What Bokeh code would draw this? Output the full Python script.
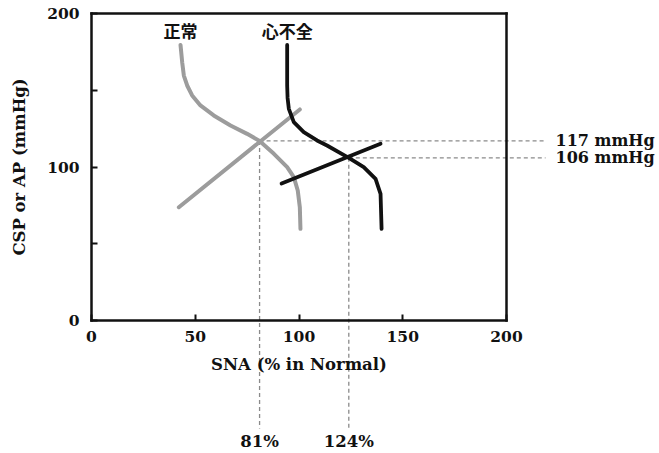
from bokeh.plotting import figure
from bokeh.models import Range1d, FixedTicker, LinearAxis
from bokeh.core.properties import value
from bokeh.embed import file_html
from bokeh.resources import INLINE

# ---- data ----
x_ticks = [0, 50, 100, 150, 200]
y_ticks = [0, 50, 100, 150, 200]
y_tick_labels = {0: "0", 50: "", 100: "100", 150: "", 200: "200"}

# Normal: baroreflex (CSP -> SNA) curve, gray
normal_curve_sna = [42.9, 43.7, 44.5, 46.1, 48.5, 52.5, 58.9, 67.0, 75.0, 81.0, 87.9, 94.3, 97.5, 99.4, 100.4, 100.7]
normal_curve_csp = [179.5, 168.3, 159.6, 153.1, 146.6, 140.1, 133.6, 127.0, 121.6, 117.0, 108.6, 99.9, 93.4, 84.7, 73.8, 59.7]
# Normal: SNA -> AP line, gray
normal_line_sna = [42.1, 100.4]
normal_line_ap = [73.8, 137.5]

# Heart failure: baroreflex curve, black
hf_curve_sna = [94.3, 94.3, 94.5, 95.1, 97.5, 102.3, 108.7, 113.5, 124.0, 131.2, 136.9, 139.3, 139.8]
hf_curve_csp = [179.5, 153.0, 145.0, 137.9, 129.2, 122.7, 117.3, 114.0, 106.0, 99.9, 92.3, 82.5, 59.7]
# Heart failure: SNA -> AP line, black
hf_line_sna = [91.6, 139.3]
hf_line_ap = [89.3, 115.1]

# operating points
op_sna = [81, 124]
op_ap = [117, 106]
op_sna_labels = ["81%", "124%"]
op_ap_labels = ["117 mmHg", "106 mmHg"]

group_labels = ["正常", "心不全"]

# ---- layout: frame fills the canvas, axes pinned at the data box ----
W, H = 659, 453
BOX_L, BOX_R, BOX_T, BOX_B = 91, 506, 13, 320   # px positions of data 0..200 box
sx = 200 / (BOX_R - BOX_L)   # data per px (x)
sy = 200 / (BOX_B - BOX_T)   # data per px (y)
x0 = -BOX_L * sx
x1 = (W - BOX_L) * sx
y0 = -(H - BOX_B) * sy
y1 = BOX_B * sy

def px_x(px):
    return (px - BOX_L) * sx

def px_y(py):
    return (BOX_B - py) * sy

p = figure(width=W, height=H, x_range=Range1d(x0, x1), y_range=Range1d(y0, y1),
           output_backend="svg", toolbar_location=None,
           min_border_left=0, min_border_right=0, min_border_top=0, min_border_bottom=0)
p.xgrid.visible = False
p.ygrid.visible = False
p.background_fill_color = "white"
p.border_fill_color = "white"
p.outline_line_color = None

ink = "#111111"
serif = "DejaVu Serif"

bottom_ax = p.below[0]
left_ax = p.left[0]
top_ax = LinearAxis(ticker=FixedTicker(ticks=[]), major_label_text_font_size="0px")
right_ax = LinearAxis(ticker=FixedTicker(ticks=[]), major_label_text_font_size="0px")
p.add_layout(top_ax, "above")
p.add_layout(right_ax, "right")

bottom_ax.fixed_location = 0
left_ax.fixed_location = 0
top_ax.fixed_location = 200
right_ax.fixed_location = 200

for ax in (bottom_ax, left_ax, top_ax, right_ax):
    ax.bounds = (0, 200)
    ax.axis_line_width = 2.5
    ax.axis_line_color = ink
    ax.axis_line_cap = "square"
    ax.major_tick_in = 6
    ax.major_tick_out = 0
    ax.major_tick_line_width = 2
    ax.major_tick_line_color = ink
    ax.minor_tick_line_color = None
    ax.major_label_text_font = serif
    ax.major_label_text_font_style = "bold"
    ax.axis_label_text_font = serif
    ax.axis_label_text_font_style = "bold"
    ax.axis_label_text_font_size = "16.5px"
    ax.axis_label_text_color = ink
    ax.major_label_text_color = ink

for ax in (bottom_ax, left_ax):
    ax.major_label_text_font_size = "15.5px"

bottom_ax.ticker = FixedTicker(ticks=x_ticks)
left_ax.ticker = FixedTicker(ticks=y_ticks)
left_ax.major_label_overrides = y_tick_labels
bottom_ax.axis_label = "SNA (% in Normal)"
left_ax.axis_label = "CSP or AP (mmHg)"
bottom_ax.major_label_standoff = 10
left_ax.major_label_standoff = 12
bottom_ax.axis_label_standoff = 10
left_ax.axis_label_standoff = 15

# dashed guides from the operating points
dash_color = "#8a8a8a"
x_ext = px_x(545)
y_ext = px_y(428)
p.segment(x0=op_sna, y0=op_ap, x1=op_sna, y1=[y_ext] * len(op_sna),
          line_color=dash_color, line_width=1.3, line_dash="4 3")
p.segment(x0=op_sna, y0=op_ap, x1=[x_ext] * len(op_sna), y1=op_ap,
          line_color=dash_color, line_width=1.3, line_dash="4 3")

gray = "#9c9c9c"
p.line(normal_curve_sna, normal_curve_csp, line_color=gray, line_width=4, line_join="round", line_cap="round")
p.line(normal_line_sna, normal_line_ap, line_color=gray, line_width=4, line_cap="round")
p.line(hf_curve_sna, hf_curve_csp, line_color=ink, line_width=3.8, line_join="round", line_cap="round")
p.line(hf_line_sna, hf_line_ap, line_color=ink, line_width=3.8, line_cap="round")

# group labels above curve tops
p.text(x=[normal_curve_sna[0], hf_curve_sna[0]], y=[px_y(30)] * 2, text=group_labels,
       text_font=value("Noto Sans CJK JP"), text_font_style="bold", text_font_size="17px",
       text_align="center", text_baseline="middle", text_color=ink)

# operating point labels
p.text(x=op_sna, y=[px_y(441)] * len(op_sna), text=op_sna_labels,
       text_font=value(serif), text_font_style="bold", text_font_size="16.5px",
       text_align="center", text_baseline="middle", text_color=ink)
p.text(x=[px_x(555)] * len(op_ap), y=op_ap, text=op_ap_labels,
       text_font=value(serif), text_font_style="bold", text_font_size="16px",
       text_align="left", text_baseline="middle", text_color=ink)

open("out.html", "w").write(file_html(p, INLINE))
